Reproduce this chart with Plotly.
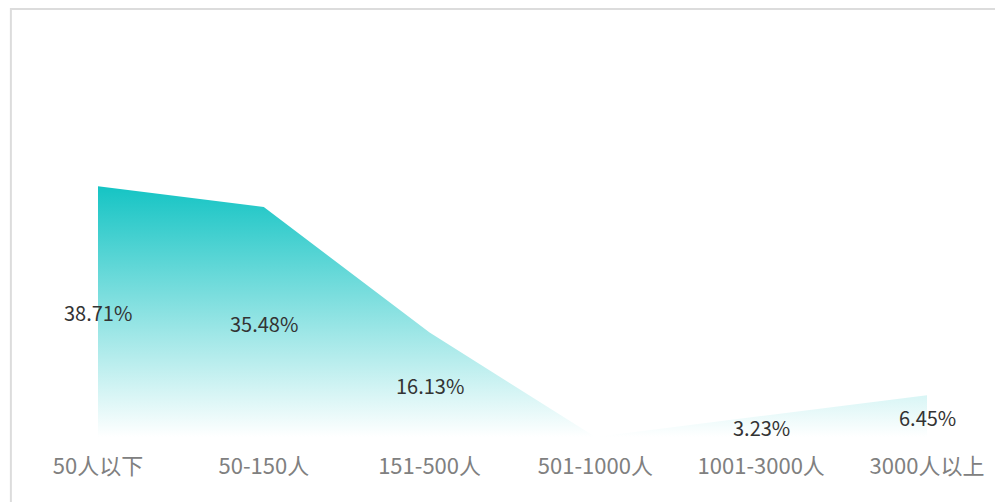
# 企业规模分布：渐变面积图
import plotly.graph_objects as go

categories = ["50人以下", "50-150人", "151-500人", "501-1000人", "1001-3000人", "3000人以上"]
shares = [38.71, 35.48, 16.13, 0, 3.23, 6.45]

FONT = "Noto Sans CJK SC, Microsoft YaHei, sans-serif"

fig = go.Figure()

# 面积：从上到下由青色渐变到白色
fig.add_trace(go.Scatter(
    x=categories, y=shares, mode="lines", fill="tozeroy",
    line=dict(width=0, color="rgba(0,0,0,0)"),
    fillgradient=dict(type="vertical", start=0, stop=max(shares),
                      colorscale=[[0, "rgba(255,255,255,1)"], [1, "#15c4c4"]]),
    hoverinfo="skip", showlegend=False,
))

# 数据标签放在面积中部，0 值不显示
for c, v in zip(categories, shares):
    if v <= 0:
        continue
    fig.add_annotation(x=c, y=v / 2, text=f"{v:.2f}%", showarrow=False,
                       yshift=-1,
                       font=dict(family=FONT, size=20, color="#333333"))

fig.update_xaxes(range=[0, 5], showgrid=False, zeroline=False, showline=False,
                 tickfont=dict(family=FONT, size=22, color="#808080"),
                 ticklabelstandoff=14)
fig.update_yaxes(range=[0, 50], visible=False)

# 外框（左、上）
fig.add_shape(type="rect", xref="paper", yref="paper",
              x0=-0.1051, x1=1.3, y0=-0.5, y1=1.3210,
              line=dict(color="#dcdcdc", width=2), layer="below")

fig.update_layout(
    width=1003, height=502,
    margin=dict(l=90, r=84, t=105, b=73),
    paper_bgcolor="white", plot_bgcolor="white",
)

fig.write_html("out.html")
